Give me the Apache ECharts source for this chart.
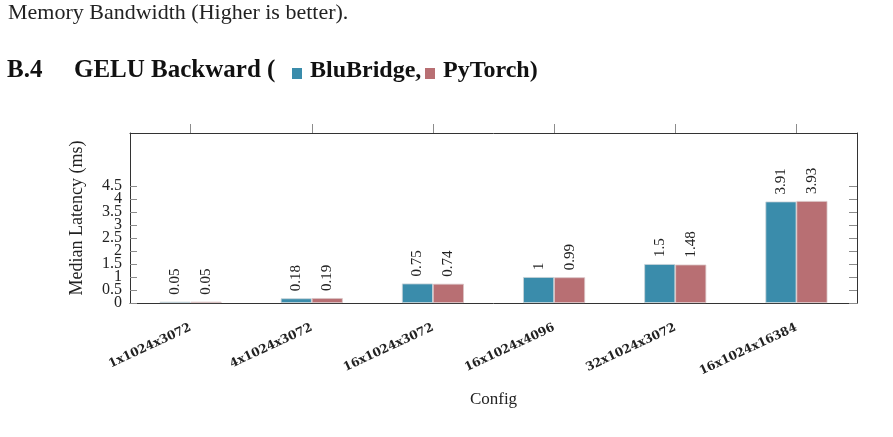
<!DOCTYPE html>
<html>
<head>
<meta charset="utf-8">
<script src="https://cdn.jsdelivr.net/npm/echarts@6/dist/echarts.min.js"></script>
<style>
  html, body { margin: 0; padding: 0; background: #fff; }
  #chart { width: 893px; height: 437px; }
</style>
</head>
<body>
<div id="chart"></div>
<script>
(function() {
  const configs = ['1x1024x3072', '4x1024x3072', '16x1024x3072', '16x1024x4096', '32x1024x3072', '16x1024x16384'];
  const bluBridge = [0.05, 0.18, 0.75, 1, 1.5, 3.91];
  const pyTorch = [0.05, 0.19, 0.74, 0.99, 1.48, 3.93];
  const yTicks = [0, 0.5, 1, 1.5, 2, 2.5, 3, 3.5, 4, 4.5];
  // labels sit closer than their height, so they are split over two axes
  const yTicksWhole = yTicks.filter(function(v, i) { return i % 2 === 0; });
  const yTicksHalf = yTicks.filter(function(v, i) { return i % 2 === 1; });

  const serif = '"Liberation Serif", "DejaVu Serif", serif';
  const blue = '#3a8cab';
  const pink = '#b86f73';
  const tickColor = '#8c8c8c';
  const frame = '#333';
  const yMax = 6.55;

  const chart = echarts.init(document.getElementById('chart'));

  const barLabel = {
    show: true,
    position: 'top',
    rotate: 90,
    align: 'left',
    verticalAlign: 'middle',
    distance: 7,
    fontFamily: serif,
    fontSize: 15,
    color: '#222'
  };

  const yLabelStyle = {
    hideOverlap: false,
    showMinLabel: true,
    showMaxLabel: true,
    margin: 8,
    fontFamily: serif,
    fontSize: 16,
    color: '#222'
  };

  const option = {
    animation: false,
    backgroundColor: '#fff',
    grid: { left: 130, right: 36, top: 133, bottom: 134 },
    graphic: [
      { type: 'text', left: 8, top: 2, style: { text: 'Memory Bandwidth (Higher is better).', font: '22px ' + serif, fill: '#222' } },
      { type: 'text', x: 7, y: 71, style: { text: 'B.4', font: 'bold 25px ' + serif, fill: '#111', verticalAlign: 'middle' } },
      { type: 'text', x: 74, y: 71, style: { text: 'GELU Backward (', font: 'bold 25px ' + serif, fill: '#111', verticalAlign: 'middle' } },
      { type: 'rect', shape: { x: 292, y: 68, width: 10, height: 11 }, style: { fill: blue } },
      { type: 'text', x: 310, y: 71, style: { text: 'BluBridge,', font: 'bold 24px ' + serif, fill: '#111', verticalAlign: 'middle' } },
      { type: 'rect', shape: { x: 425, y: 68, width: 10, height: 11 }, style: { fill: pink } },
      { type: 'text', x: 443, y: 71, style: { text: 'PyTorch)', font: 'bold 24px ' + serif, fill: '#111', verticalAlign: 'middle' } }
    ],
    xAxis: [
      {
        type: 'category',
        data: configs,
        position: 'bottom',
        name: 'Config',
        nameLocation: 'middle',
        nameGap: 88,
        nameTextStyle: { fontFamily: serif, fontSize: 17, color: '#222' },
        axisLine: { onZero: false, lineStyle: { color: frame, width: 1 } },
        axisTick: { alignWithLabel: true, interval: 0, length: 10, lineStyle: { color: tickColor } },
        axisLabel: {
          rotate: 25,
          margin: 24,
          interval: 0,
          fontFamily: '"DejaVu Serif", serif',
          fontWeight: 'bold',
          fontSize: 12,
          color: '#222'
        },
        splitLine: { show: false }
      },
      {
        type: 'category',
        data: configs,
        position: 'top',
        axisLine: { onZero: false, lineStyle: { color: frame, width: 1 } },
        axisTick: { show: true, alignWithLabel: true, interval: 0, length: 9, lineStyle: { color: tickColor } },
        axisLabel: { show: false, interval: 0 },
        splitLine: { show: false }
      }
    ],
    yAxis: [
      {
        type: 'value',
        min: 0,
        max: yMax,
        position: 'left',
        name: 'Median Latency (ms)',
        nameLocation: 'middle',
        nameGap: 44,
        nameTextStyle: { fontFamily: serif, fontSize: 18, color: '#222' },
        axisLine: { show: true, onZero: false, lineStyle: { color: frame, width: 1 } },
        axisTick: { show: true, inside: true, length: 7, customValues: yTicks, lineStyle: { color: tickColor } },
        axisLabel: Object.assign({ customValues: yTicksWhole }, yLabelStyle),
        splitLine: { show: false }
      },
      {
        type: 'value',
        min: 0,
        max: yMax,
        position: 'right',
        axisLine: { show: true, onZero: false, lineStyle: { color: frame, width: 1 } },
        axisTick: { show: true, inside: true, length: 8, customValues: yTicks, lineStyle: { color: tickColor } },
        axisLabel: { show: false },
        splitLine: { show: false }
      },
      {
        type: 'value',
        min: 0,
        max: yMax,
        position: 'left',
        offset: 0,
        axisLine: { show: false, onZero: false },
        axisTick: { show: false },
        axisLabel: Object.assign({ customValues: yTicksHalf }, yLabelStyle),
        splitLine: { show: false }
      }
    ],
    series: [
      {
        name: 'BluBridge',
        type: 'bar',
        data: bluBridge,
        barWidth: 31,
        barGap: '0%',
        itemStyle: { color: blue, borderColor: '#c9d3d8', borderWidth: 0.8 },
        label: barLabel
      },
      {
        name: 'PyTorch',
        type: 'bar',
        data: pyTorch,
        barWidth: 31,
        barGap: '0%',
        itemStyle: { color: pink, borderColor: '#d9c4c5', borderWidth: 0.8 },
        label: barLabel
      }
    ]
  };
  chart.setOption(option);

  window.onresize = function() {
    chart.resize();
  };
}());
</script>
</body>
</html>
